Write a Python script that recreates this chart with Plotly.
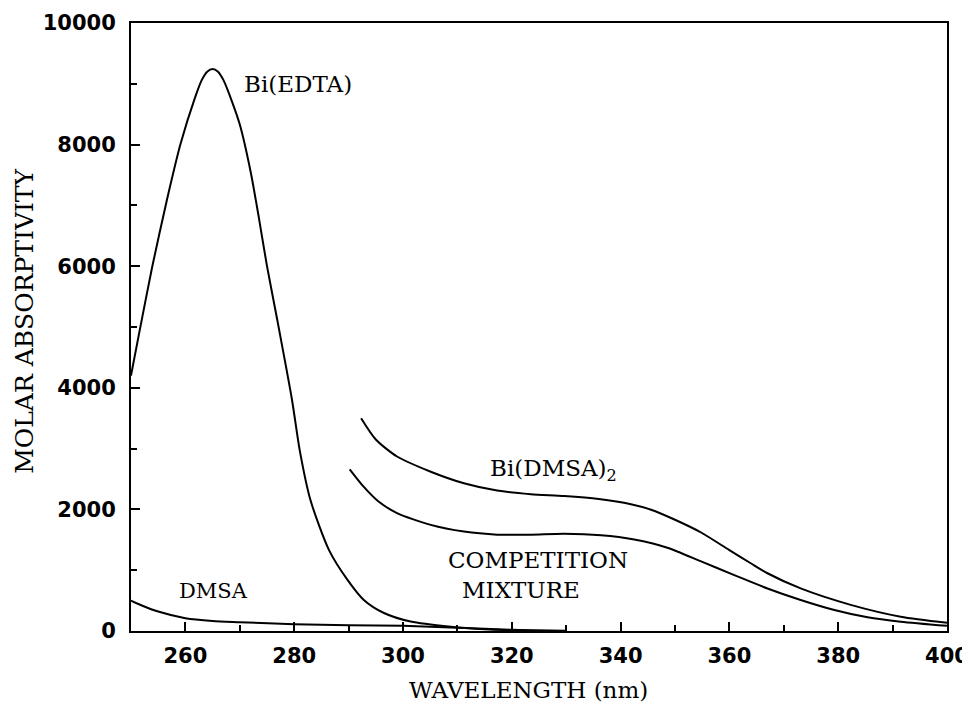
import plotly.graph_objects as go

# ---- data ----
wl_edta = [250, 251.5, 253.9, 256.6, 259.1, 261.8, 263, 264, 265, 266, 267, 268.6, 270, 272,
           273.5, 275, 276.9, 279.6, 281, 283, 286.4, 289.8, 292.8, 296.4, 301.4, 308.8,
           315, 322, 330]
edta = [4200, 4900, 5990, 7090, 8010, 8780, 9060, 9200, 9245, 9200, 9060, 8700, 8330, 7550,
        6800, 6000, 5110, 3800, 2980, 2150, 1330, 840, 510, 300, 155, 70,
        30, 8, 0]

wl_dmsa = [250, 252, 255, 260, 265, 270, 280, 290, 300, 310, 320, 330]
dmsa = [500, 420, 320, 210, 165, 145, 110, 95, 85, 55, 20, 5]

wl_bidmsa = [292.3, 295, 298.9, 305.1, 311.2, 317.3, 323.5, 329.6, 336, 341.9, 345.6,
             350, 354.8, 360, 364, 367, 373.1, 382.3, 391.5, 400]
bidmsa = [3500, 3150, 2870, 2620, 2430, 2310, 2250, 2220, 2170, 2085, 1995,
          1830, 1620, 1330, 1110, 950, 700, 430, 235, 135]

wl_comp = [290.2, 292.8, 295.5, 298.9, 305.1, 311.2, 317.3, 323.5, 329.6, 336.4, 342.5,
           348.6, 354.8, 360.9, 367, 373.1, 379.3, 385.4, 391.5, 400]
comp = [2660, 2370, 2130, 1940, 1745, 1635, 1585, 1585, 1600, 1575, 1505,
        1370, 1145, 920, 700, 510, 345, 225, 153, 85]

x_ticks = [260, 280, 300, 320, 340, 360, 380, 400]
x_ticktext = ["260", "280", "300", "320", "340", "360", "380", "400"]
y_ticks = [0, 2000, 4000, 6000, 8000, 10000]
y_ticktext = ["0", "2000", "4000", "6000", "8000", "10000"]

LINE = dict(color="black", width=2, shape="spline", smoothing=0.7)
SERIF = "DejaVu Serif"

fig = go.Figure()
for xs, ys, name in [(wl_edta, edta, "Bi(EDTA)"), (wl_dmsa, dmsa, "DMSA"),
                     (wl_bidmsa, bidmsa, "Bi(DMSA)2"), (wl_comp, comp, "Competition mixture")]:
    fig.add_trace(go.Scatter(x=xs, y=ys, mode="lines", line=LINE, name=name,
                             showlegend=False, hoverinfo="x+y"))

labels = [
    dict(x=270.4, y=9000, text="Bi(EDTA)", xanchor="left", size=23),
    dict(x=258.4, y=650, text="DMSA", xanchor="left", size=21),
    dict(x=327.7, y=2640, text="Bi(DMSA)<sub>2</sub>", xanchor="center", size=23),
    dict(x=324.9, y=1170, text="COMPETITION", xanchor="center", size=23),
    dict(x=321.6, y=674, text="MIXTURE", xanchor="center", size=23),
]
for a in labels:
    fig.add_annotation(x=a["x"], y=a["y"], text=a["text"], xanchor=a["xanchor"],
                       yanchor="middle", showarrow=False,
                       font=dict(family=SERIF, size=a["size"], color="black"))

fig.add_annotation(xref="paper", yref="paper", x=0.487, y=-0.097, text="WAVELENGTH (nm)",
                   showarrow=False, xanchor="center", yanchor="middle",
                   font=dict(family=SERIF, size=23, color="black"))
fig.add_annotation(xref="paper", yref="paper", x=-0.13, y=0.51, text="MOLAR ABSORPTIVITY",
                   showarrow=False, xanchor="center", yanchor="middle", textangle=-90,
                   font=dict(family=SERIF, size=25, color="black"))

tickfont = dict(family="DejaVu Sans", size=21, color="black", weight="bold")
fig.update_xaxes(range=[250, 400], tickvals=x_ticks, ticktext=x_ticktext, ticks="inside",
                 ticklen=9, tickwidth=2, tickcolor="black", showline=True, linewidth=2,
                 linecolor="black", mirror=True, showgrid=False, zeroline=False,
                 tickfont=tickfont, ticklabelstandoff=5, automargin=False,
                 minor=dict(dtick=10, tick0=250, ticks="inside", ticklen=6,
                            tickwidth=1.5, tickcolor="black", showgrid=False))
fig.update_yaxes(range=[0, 10000], tickvals=y_ticks, ticktext=y_ticktext, ticks="inside",
                 ticklen=9, tickwidth=2, tickcolor="black", showline=True, linewidth=2,
                 linecolor="black", mirror=True, showgrid=False, zeroline=False,
                 tickfont=tickfont, ticklabelstandoff=9, automargin=False,
                 minor=dict(dtick=1000, tick0=0, ticks="inside", ticklen=6,
                            tickwidth=1.5, tickcolor="black", showgrid=False))

# The page adds an 8px body margin, so the figure is 8px smaller than the window
fig.update_layout(width=962, height=703, margin=dict(l=123, r=23, t=15, b=80),
                  plot_bgcolor="white", paper_bgcolor="white", showlegend=False)

fig.write_html("out.html")
